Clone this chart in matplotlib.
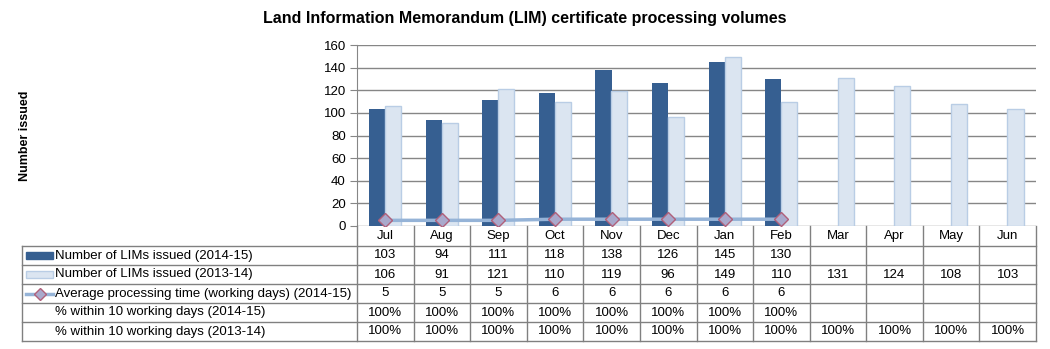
import numpy as np
import matplotlib
matplotlib.use("Agg")
import matplotlib.pyplot as plt
from matplotlib.patches import Rectangle

plt.rcParams['font.family'] = ['Liberation Sans', 'DejaVu Sans']

months = ["Jul", "Aug", "Sep", "Oct", "Nov", "Dec", "Jan", "Feb", "Mar", "Apr", "May", "Jun"]
lims_1415 = [103, 94, 111, 118, 138, 126, 145, 130]
lims_1314 = [106, 91, 121, 110, 119, 96, 149, 110, 131, 124, 108, 103]
avg_days_1415 = [5, 5, 5, 6, 6, 6, 6, 6]
pct_1415 = ["100%"] * 8
pct_1314 = ["100%"] * 12

row_labels = ["Number of LIMs issued (2014-15)",
              "Number of LIMs issued (2013-14)",
              "Average processing time (working days) (2014-15)",
              "% within 10 working days (2014-15)",
              "% within 10 working days (2013-14)"]

dark = "#365F91"
light = "#DBE5F1"
light_edge = "#B9CDE5"
line_col = "#95B3D7"
grid_col = "#868686"
tab_col = "#808080"
fs = 9.5

W, H = 1050, 349
fig = plt.figure(figsize=(W / 100, H / 100), dpi=100)

# plot area in pixels
px_l, px_r, px_t, px_b = 357, 1036, 45, 226
ax = fig.add_axes([px_l / W, 1 - px_b / H, (px_r - px_l) / W, (px_b - px_t) / H])

x = np.arange(len(months))
bw = 0.285
ax.bar(x[:len(lims_1415)] - bw / 2, lims_1415, bw, color=dark, zorder=3)
ax.bar(x - 0.005 + bw / 2, lims_1314, bw, color=light, edgecolor=light_edge, linewidth=1, zorder=3)
ax.plot(x[:len(avg_days_1415)], avg_days_1415, color=line_col, lw=2.5, zorder=4,
        marker="D", ms=7, mfc="#A9A9CC", mec="#B0607A", mew=1)

ax.set_xlim(-0.5, len(months) - 0.5)
ax.set_ylim(0, 160)
ax.set_yticks(range(0, 161, 20))
ax.yaxis.grid(True, color=grid_col, lw=1)
ax.set_axisbelow(True)
ax.set_xticks([])
ax.tick_params(axis="y", length=5, color=grid_col, labelsize=9.5, pad=3)
for s in ["top", "right", "bottom"]:
    ax.spines[s].set_visible(False)
ax.spines["left"].set_color(grid_col)

fig.text(0.5, 1 - 18 / H, "Land Information Memorandum (LIM) certificate processing volumes",
         ha="center", va="center", fontsize=11.5, fontweight="bold")
fig.text(25 / W, 1 - 136 / H, "Number issued", rotation=90, ha="center", va="center",
         fontsize=9, fontweight="bold")

# data table underneath
cw = (px_r - px_l) / len(months)
tb_l, tb_t, tb_b = 22, 226, 341
tax = fig.add_axes([tb_l / W, 1 - tb_b / H, (px_r - tb_l) / W, (tb_b - tb_t) / H])
x0 = -0.5 - (px_l - tb_l) / cw
tax.set_xlim(x0, len(months) - 0.5)
row_h = [20, 19, 19, 19, 19, 19]
edges = np.concatenate([[0], np.cumsum(row_h)])
tax.set_ylim(edges[-1], 0)
tax.axis("off")

def px2x(p):
    return x0 + (p - tb_l) / cw

kw = dict(color=tab_col, lw=1, clip_on=False)
# horizontal lines
for e in edges[1:]:
    tax.plot([x0, len(months) - 0.5], [e, e], **kw)
# vertical lines
for b in np.arange(len(months) + 1) - 0.5:
    tax.plot([b, b], [0, edges[-1]], **kw)
tax.plot([x0, x0], [edges[1], edges[-1]], **kw)

# month labels
mid = (edges[:-1] + edges[1:]) / 2
for i, m in enumerate(months):
    tax.text(i, mid[0], m, ha="center", va="center", fontsize=fs)

rows = [[str(v) for v in lims_1415], [str(v) for v in lims_1314],
        [str(v) for v in avg_days_1415], pct_1415, pct_1314]
for r, vals in enumerate(rows):
    y = mid[r + 1]
    for i, v in enumerate(vals):
        tax.text(i, y, v, ha="center", va="center", fontsize=fs)
    tax.text(px2x(55), y, row_labels[r], ha="left", va="center", fontsize=fs)

# legend keys
k0, k1 = px2x(26), px2x(53)
tax.add_patch(Rectangle((k0, mid[1] - 3.5), k1 - k0, 7, color=dark, clip_on=False))
tax.add_patch(Rectangle((k0, mid[2] - 3.5), k1 - k0, 7, facecolor=light,
                        edgecolor=light_edge, lw=1, clip_on=False))
tax.plot([k0, k1], [mid[3], mid[3]], color=line_col, lw=2.5, clip_on=False)
tax.plot([(k0 + k1) / 2], [mid[3]], marker="D", ms=6, mfc="#A9A9CC", mec="#B0607A",
         mew=1, clip_on=False)

fig.savefig("out.png", dpi=100)
